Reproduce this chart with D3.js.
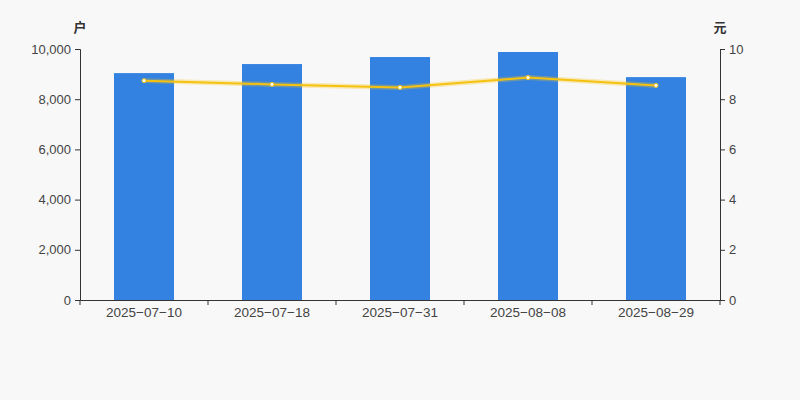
<!DOCTYPE html>
<meta charset="utf-8">
<title>户数与均价</title>
<script src="https://d3js.org/d3.v7.min.js"></script>
<style>
  body { margin: 0; background: #f8f8f8; }
  text { font-family: "Liberation Sans", Arial, sans-serif; }
</style>
<body>
<script>

// data
const dates = ["2025-07-10", "2025-07-18", "2025-07-31", "2025-08-08", "2025-08-29"];
const holders = [9040, 9400, 9680, 9880, 8880];
const prices = [8.74, 8.59, 8.47, 8.86, 8.55];
const leftTicks = [0, 2000, 4000, 6000, 8000, 10000];
const rightTicks = [0, 2, 4, 6, 8, 10];

const width = 800;
const height = 400;
const margin = { top: 49, right: 80, bottom: 100, left: 80 };

const svg = d3.select("body").append("svg")
  .attr("width", width)
  .attr("height", height)
  .style("background", "#f8f8f8");

const x = d3.scaleBand()
  .domain(dates)
  .range([margin.left, width - margin.right]);

const yL = d3.scaleLinear()
  .domain([0, 10000])
  .range([height - margin.bottom, margin.top]);

const yR = d3.scaleLinear()
  .domain([0, 10])
  .range([height - margin.bottom, margin.top]);

// bars
const barW = 60;
svg.selectAll("rect.bar")
  .data(holders)
  .enter()
  .append("rect")
  .attr("class", "bar")
  .attr("x", (d, i) => x(dates[i]) + x.bandwidth() / 2 - barW / 2)
  .attr("y", d => yL(d))
  .attr("width", barW)
  .attr("height", d => yL(0) - yL(d))
  .attr("fill", "#3382e2");

// left axis
const axisL = svg.append("g")
  .attr("transform", `translate(${margin.left},0)`)
  .call(d3.axisLeft(yL).tickValues(leftTicks).tickSize(5).tickPadding(4).tickFormat(d3.format(",")));

// right axis
const axisR = svg.append("g")
  .attr("transform", `translate(${width - margin.right},0)`)
  .call(d3.axisRight(yR).tickValues(rightTicks).tickSize(5).tickPadding(4));

// bottom axis, ticks on band edges
const axisB = svg.append("g")
  .attr("transform", `translate(0,${height - margin.bottom})`)
  .call(d3.axisBottom(x).tickSize(0).tickPadding(7).tickFormat(d => d.replace(/-/g, "\u2212")));

svg.append("g")
  .selectAll("line")
  .data(dates.concat(["end"]))
  .enter()
  .append("line")
  .attr("x1", (d, i) => i < dates.length ? x(d) : x(dates[dates.length - 1]) + x.bandwidth())
  .attr("x2", (d, i) => i < dates.length ? x(d) : x(dates[dates.length - 1]) + x.bandwidth())
  .attr("y1", height - margin.bottom)
  .attr("y2", height - margin.bottom + 5)
  .attr("stroke", "#333");

[axisL, axisR, axisB].forEach(g => {
  g.select(".domain").attr("stroke", "#333");
  g.selectAll(".tick line").attr("stroke", "#333");
  g.selectAll(".tick text")
    .attr("fill", "#444")
    .style("font-size", "13px");
});
axisB.selectAll(".tick text").style("font-size", "13.5px");

// line glow
const line = d3.line()
  .x((d, i) => x(dates[i]) + x.bandwidth() / 2)
  .y(d => yR(d));

svg.append("path")
  .datum(prices)
  .attr("d", line)
  .attr("fill", "none")
  .attr("stroke", "#f5c518")
  .attr("stroke-opacity", 0.3)
  .attr("stroke-width", 5);

svg.append("path")
  .datum(prices)
  .attr("d", line)
  .attr("fill", "none")
  .attr("stroke", "#f5c211")
  .attr("stroke-width", 2);

svg.selectAll("circle.pt")
  .data(prices)
  .enter()
  .append("circle")
  .attr("class", "pt")
  .attr("cx", (d, i) => x(dates[i]) + x.bandwidth() / 2)
  .attr("cy", d => yR(d))
  .attr("r", 2)
  .attr("fill", "#fff")
  .attr("stroke", "#f5c211")
  .attr("stroke-width", 1);

// unit labels
svg.append("text")
  .attr("x", 80)
  .attr("y", 32)
  .attr("text-anchor", "middle")
  .attr("fill", "#333")
  .style("font-size", "13px")
  .style("font-weight", "bold")
  .style("font-family", "'Noto Sans CJK SC', sans-serif")
  .text("户");

svg.append("text")
  .attr("x", 720)
  .attr("y", 32)
  .attr("text-anchor", "middle")
  .attr("fill", "#333")
  .style("font-size", "13px")
  .style("font-weight", "bold")
  .style("font-family", "'Noto Sans CJK SC', sans-serif")
  .text("元");

</script>
</body>
